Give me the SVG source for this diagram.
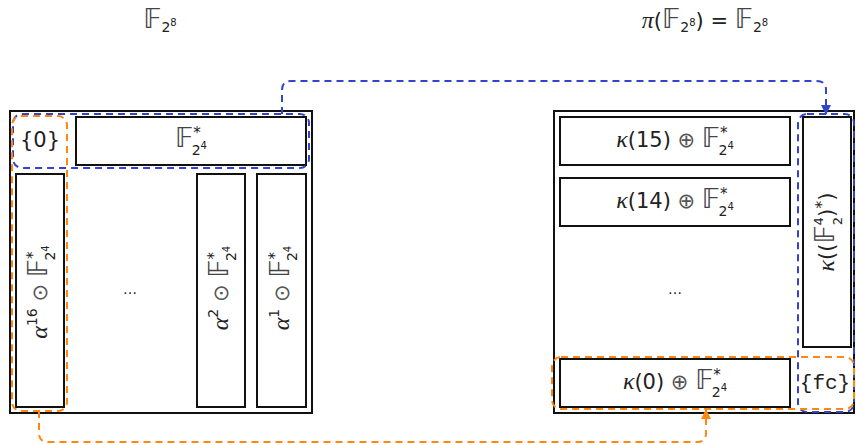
<svg xmlns="http://www.w3.org/2000/svg" width="856" height="445" viewBox="0 0 856 445">
<style>
.outer{fill:#fff;stroke:#111;stroke-width:2}
.bar{fill:#fff;stroke:#111;stroke-width:2}
.t{font-family:"DejaVu Sans","Noto Sans",sans-serif;font-size:21px;fill:#222}
.it{font-family:"Liberation Serif","DejaVu Serif",serif;font-style:italic;font-size:24px}
.op{fill:#555}
.bb{fill:#444;font-size:27px}
.mono{font-family:"Liberation Mono","DejaVu Sans Mono",monospace}
.dots{font-family:"DejaVu Sans",sans-serif;font-size:14px;fill:#222}
.blue{fill:none;stroke:#3344cc;stroke-width:2;stroke-dasharray:7 5}
.orange{fill:none;stroke:#ff8811;stroke-width:2;stroke-dasharray:7 5}
</style>
<defs>
<marker id="ab" markerWidth="10" markerHeight="10" refX="9" refY="5" orient="auto" markerUnits="userSpaceOnUse" viewBox="0 0 10 10"><path d="M0,0 L10,5 L0,10 Z" fill="#3344cc"/></marker>
<marker id="ao" markerWidth="10" markerHeight="10" refX="9" refY="5" orient="auto" markerUnits="userSpaceOnUse" viewBox="0 0 10 10"><path d="M0,0 L10,5 L0,10 Z" fill="#ff8811"/></marker>
</defs>

<g id="title-left">
<text class="t" x="160" y="28" text-anchor="middle"><tspan class="bb">𝔽</tspan><tspan font-size="14" dy="4">2</tspan><tspan font-size="10" dy="-6">8</tspan></text>
</g>
<g id="title-right">
<text class="t" x="705" y="28" text-anchor="middle"><tspan class="it">π</tspan>(<tspan class="bb">𝔽</tspan><tspan font-size="14" dy="4">2</tspan><tspan font-size="10" dy="-6">8</tspan><tspan dy="2">) = </tspan><tspan class="bb">𝔽</tspan><tspan font-size="14" dy="4">2</tspan><tspan font-size="10" dy="-6">8</tspan></text>
</g>

<g id="left-field">
<rect class="outer" x="10" y="111" width="302" height="302"/>
</g>
<g id="zero">
<text class="t" x="40" y="147" text-anchor="middle" font-size="17">{0}</text>
</g>
<g id="left-top-bar">
<rect class="bar" x="76" y="117" width="230" height="48"/>
<text class="t" x="191" y="147" text-anchor="middle"><tspan class="bb">𝔽</tspan><tspan font-size="15" dy="-9">*</tspan><tspan font-size="14" dx="-9" dy="17">2</tspan><tspan font-size="10" dy="-6">4</tspan></text>
</g>
<g id="bar-a16">
<rect class="bar" x="16" y="174" width="48" height="233"/>
<text class="t" transform="translate(40,292) rotate(-90)" x="0" y="7" text-anchor="middle"><tspan class="it">α</tspan><tspan font-size="14" dy="-10">16</tspan><tspan class="op" dy="10"> ⊙ </tspan><tspan class="bb">𝔽</tspan><tspan font-size="15" dy="-9">*</tspan><tspan font-size="14" dx="-9" dy="17">2</tspan><tspan font-size="10" dy="-6">4</tspan></text>
</g>
<g id="left-dots">
<text class="dots" x="130" y="294" text-anchor="middle">…</text>
</g>
<g id="bar-a2">
<rect class="bar" x="197" y="174" width="48" height="233"/>
<text class="t" transform="translate(221,288) rotate(-90)" x="0" y="7" text-anchor="middle"><tspan class="it">α</tspan><tspan font-size="14" dy="-10">2</tspan><tspan class="op" dy="10"> ⊙ </tspan><tspan class="bb">𝔽</tspan><tspan font-size="15" dy="-9">*</tspan><tspan font-size="14" dx="-9" dy="17">2</tspan><tspan font-size="10" dy="-6">4</tspan></text>
</g>
<g id="bar-a1">
<rect class="bar" x="257" y="174" width="49" height="233"/>
<text class="t" transform="translate(281.5,288) rotate(-90)" x="0" y="7" text-anchor="middle"><tspan class="it">α</tspan><tspan font-size="14" dy="-10">1</tspan><tspan class="op" dy="10"> ⊙ </tspan><tspan class="bb">𝔽</tspan><tspan font-size="15" dy="-9">*</tspan><tspan font-size="14" dx="-9" dy="17">2</tspan><tspan font-size="10" dy="-6">4</tspan></text>
</g>

<g id="right-field">
<rect class="outer" x="554" y="111" width="300" height="302"/>
</g>
<g id="bar-k15">
<rect class="bar" x="560" y="117" width="230" height="48"/>
<text class="t" x="675" y="147" text-anchor="middle"><tspan class="it">κ</tspan>(15)<tspan class="op"> ⊕ </tspan><tspan class="bb">𝔽</tspan><tspan font-size="15" dy="-9">*</tspan><tspan font-size="14" dx="-9" dy="17">2</tspan><tspan font-size="10" dy="-6">4</tspan></text>
</g>
<g id="bar-k14">
<rect class="bar" x="560" y="178" width="230" height="48"/>
<text class="t" x="675" y="208" text-anchor="middle"><tspan class="it">κ</tspan>(14)<tspan class="op"> ⊕ </tspan><tspan class="bb">𝔽</tspan><tspan font-size="15" dy="-9">*</tspan><tspan font-size="14" dx="-9" dy="17">2</tspan><tspan font-size="10" dy="-6">4</tspan></text>
</g>
<g id="right-dots">
<text class="dots" x="675" y="294" text-anchor="middle">…</text>
</g>
<g id="bar-k0">
<rect class="bar" x="560" y="359" width="230" height="48"/>
<text class="t" x="675" y="389" text-anchor="middle"><tspan class="it">κ</tspan>(0)<tspan class="op"> ⊕ </tspan><tspan class="bb">𝔽</tspan><tspan font-size="15" dy="-9">*</tspan><tspan font-size="14" dx="-9" dy="17">2</tspan><tspan font-size="10" dy="-6">4</tspan></text>
</g>
<g id="bar-kF">
<rect class="bar" x="803" y="117" width="48" height="230"/>
<text class="t" transform="translate(827,232) rotate(-90)" x="0" y="7" text-anchor="middle"><tspan class="it">κ</tspan>((<tspan class="bb">𝔽</tspan><tspan font-size="13" dy="-11">4</tspan><tspan font-size="13" dx="-8" dy="19">2</tspan><tspan dy="-8">)</tspan><tspan font-size="16" dy="-7">*</tspan><tspan dy="7">)</tspan></text>
</g>
<g id="fc">
<text class="t mono" x="825" y="389" text-anchor="middle" font-size="17">{fc}</text>
</g>

<g id="groups">
<rect class="blue" x="13" y="114" width="296" height="54" rx="9"/>
<rect class="orange" x="12" y="116" width="55" height="295" rx="9"/>
<rect class="blue" x="798" y="114" width="56" height="298" rx="9"/>
<rect class="orange" x="552" y="357" width="302" height="52" rx="9"/>
</g>

<g id="connectors">
<path class="blue" d="M282,114 V90 Q282,81 291,81 H817 Q826,81 826,90 V114" marker-end="url(#ab)"/>
<path class="orange" d="M39,411 V433 Q39,442 48,442 H697 Q706,442 706,433 V410" marker-end="url(#ao)"/>
</g>
</svg>
